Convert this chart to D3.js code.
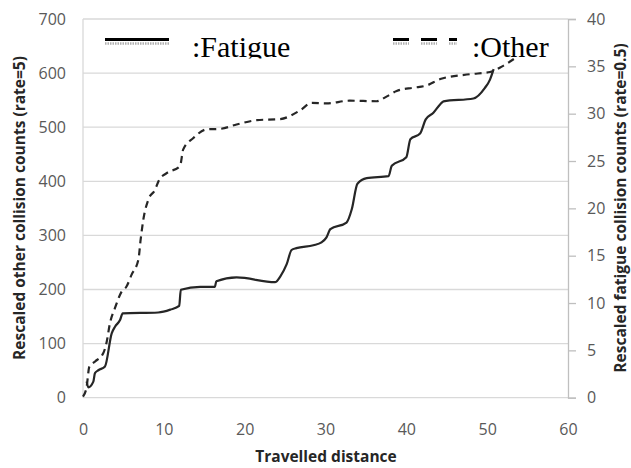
<!DOCTYPE html>
<html>
<head>
<meta charset="utf-8">
<script src="https://cdn.jsdelivr.net/npm/d3@7"></script>
<style>
  html, body { margin: 0; padding: 0; background: #fff; }
  svg { display: block; }
</style>
</head>
<body>
<svg id="chart" width="631" height="468"></svg>
<script>
// ---- data ----
const xTicks = [0, 10, 20, 30, 40, 50, 60];
const leftTicks = [0, 100, 200, 300, 400, 500, 600, 700];
const rightTicks = [0, 5, 10, 15, 20, 25, 30, 35, 40];

// Other collisions (left axis, rate=5)
const otherDist = [0, 0.45, 0.78, 1.5, 2.5, 2.9, 3.34, 3.96, 4.78, 5.4, 6.0, 6.85, 7.13, 7.46, 8.08, 8.9, 9.4, 10.35, 12.0, 12.4, 13.65, 15.3, 17.0, 19.0, 21.5, 24.4, 26.85, 28.3, 30.1, 33.0, 36.3, 37.6, 38.8, 40.9, 42.5, 44.2, 47.9, 50.35, 51.8, 53.3];
const otherVal  = [2, 20, 57, 67, 82, 101, 138, 166, 196, 206, 227, 255, 292, 329, 366, 384, 402, 415, 428, 459, 480, 496, 497, 505, 513, 515, 531, 545, 544, 549, 548, 557, 567, 573, 577, 589, 598, 602, 612, 626];

// Fatigue collisions (right axis, rate=0.5)
const fatigueDist = [0.45, 0.66, 1.28, 1.48, 1.9, 2.72, 3.55, 3.96, 4.58, 4.91, 9.3, 10.8, 11.9, 12.1, 14.5, 16.3, 16.5, 19.0, 23.75, 24.4, 25.2, 25.8, 26.4, 28.5, 29.5, 30.1, 30.6, 32.6, 33.25, 33.95, 35.1, 37.8, 38.2, 40.0, 40.5, 41.7, 42.4, 43.35, 44.2, 44.6, 48.3, 49.7, 50.35, 50.8];
const fatigueVal  = [1.7, 1.1, 1.7, 2.6, 2.9, 3.3, 6.8, 7.5, 8.2, 8.9, 9.0, 9.3, 9.7, 11.4, 11.7, 11.7, 12.3, 12.7, 12.2, 12.8, 14.1, 15.6, 15.8, 16.1, 16.4, 16.9, 17.8, 18.5, 19.9, 22.6, 23.2, 23.4, 24.5, 25.4, 27.3, 27.9, 29.4, 30.1, 31.0, 31.3, 31.6, 32.7, 33.6, 34.7];

const legendLabels = [":Fatigue", ":Other"];
const xTitle = "Travelled distance";
const leftTitle = "Rescaled other collision counts (rate=5)";
const rightTitle = "Rescaled fatigue collision counts (rate=0.5)";

// ---- layout ----
const svg = d3.select("#chart");
const L = 83, R = 568, T = 19, B = 397.7;
const x = d3.scaleLinear().domain([0, 60]).range([L, R]);
const yL = d3.scaleLinear().domain([0, 700]).range([B, T]);
const yR = d3.scaleLinear().domain([0, 40]).range([B, T]);
const tickFont = "'Open Sans', sans-serif";

// gridlines
svg.append("g").selectAll("line").data(leftTicks).join("line")
  .attr("x1", L).attr("x2", R)
  .attr("y1", d => yL(d)).attr("y2", d => yL(d))
  .attr("stroke", "#d9d9d9").attr("stroke-width", 1.3);

// left axis line (light)
svg.append("line").attr("x1", L).attr("x2", L).attr("y1", T).attr("y2", B)
  .attr("stroke", "#d9d9d9").attr("stroke-width", 1.3);

// left axis labels
const gl = svg.append("g").attr("transform", `translate(${L},0)`)
  .call(d3.axisLeft(yL).tickValues(leftTicks).tickSize(0).tickPadding(17));
gl.select(".domain").remove();
gl.selectAll("text").attr("font-family", tickFont).attr("font-size", 16).attr("fill", "#595959");

// right axis
const gr = svg.append("g").attr("transform", `translate(${R},0)`)
  .call(d3.axisRight(yR).tickValues(rightTicks).tickSize(8).tickPadding(11));
gr.select(".domain").attr("stroke", "#bfbfbf").attr("stroke-width", 1.3);
gr.selectAll(".tick line").attr("stroke", "#bfbfbf").attr("stroke-width", 1.3);
gr.selectAll("text").attr("font-family", tickFont).attr("font-size", 16).attr("fill", "#595959");

// bottom axis
const gb = svg.append("g").attr("transform", `translate(0,${B})`)
  .call(d3.axisBottom(x).tickValues(xTicks).tickSize(0).tickPadding(26));
gb.select(".domain").remove();
gb.selectAll("text").attr("font-family", tickFont).attr("font-size", 16).attr("fill", "#595959");

// titles
svg.append("text").attr("x", 326).attr("y", 462).attr("text-anchor", "middle")
  .attr("font-family", tickFont).attr("font-weight", "bold").attr("font-size", 15.5)
  .attr("fill", "#262626").text(xTitle);
svg.append("text").attr("transform", "translate(25,208) rotate(-90)").attr("text-anchor", "middle")
  .attr("font-family", tickFont).attr("font-weight", "bold").attr("font-size", 15.5)
  .attr("fill", "#262626").text(leftTitle);
svg.append("text").attr("transform", "translate(626,208) rotate(-90)").attr("text-anchor", "middle")
  .attr("font-family", tickFont).attr("font-weight", "bold").attr("font-size", 15.5)
  .attr("fill", "#262626").text(rightTitle);

// lines
const otherData = otherDist.map((d, i) => [d, otherVal[i]]);
const fatigueData = fatigueDist.map((d, i) => [d, fatigueVal[i]]);

svg.append("path").datum(otherData)
  .attr("fill", "none").attr("stroke", "#262626").attr("stroke-width", 2.2)
  .attr("stroke-dasharray", "7,5")
  .attr("d", d3.line().x(d => x(d[0])).y(d => yL(d[1])).curve(d3.curveMonotoneX));

svg.append("path").datum(fatigueData)
  .attr("fill", "none").attr("stroke", "#262626").attr("stroke-width", 2.2)
  .attr("d", d3.line().x(d => x(d[0])).y(d => yR(d[1])).curve(d3.curveMonotoneX));

// legend
const defs = svg.append("defs");
defs.append("clipPath").attr("id", "legclip").append("rect")
  .attr("x", 0).attr("y", 0).attr("width", 631).attr("height", 58.5);

// Fatigue marker
svg.append("rect").attr("x", 105).attr("y", 38).attr("width", 64).attr("height", 3).attr("fill", "#000");
svg.append("line").attr("x1", 105).attr("x2", 169).attr("y1", 43.5).attr("y2", 43.5)
  .attr("stroke", "#b0b0b0").attr("stroke-width", 2.5).attr("stroke-dasharray", "1.5,1");
// Other marker
const dashSeg = [[393, 409], [421, 437], [449, 457]];
svg.append("g").selectAll("rect").data(dashSeg).join("rect")
  .attr("x", d => d[0]).attr("y", 38).attr("width", d => d[1] - d[0]).attr("height", 3).attr("fill", "#000");
svg.append("g").selectAll("line").data(dashSeg).join("line")
  .attr("x1", d => d[0]).attr("x2", d => d[1]).attr("y1", 43.5).attr("y2", 43.5)
  .attr("stroke", "#b0b0b0").attr("stroke-width", 2.5).attr("stroke-dasharray", "1.5,1");

const legText = svg.append("g").attr("clip-path", "url(#legclip)");
legText.append("text").attr("x", 192).attr("y", 57).attr("font-family", "'Liberation Serif', 'Times New Roman', serif")
  .attr("font-size", 30).attr("fill", "#000").text(legendLabels[0]);
legText.append("text").attr("x", 472).attr("y", 57).attr("font-family", "'Liberation Serif', 'Times New Roman', serif")
  .attr("font-size", 30).attr("fill", "#000").text(legendLabels[1]);
</script>
</body>
</html>
